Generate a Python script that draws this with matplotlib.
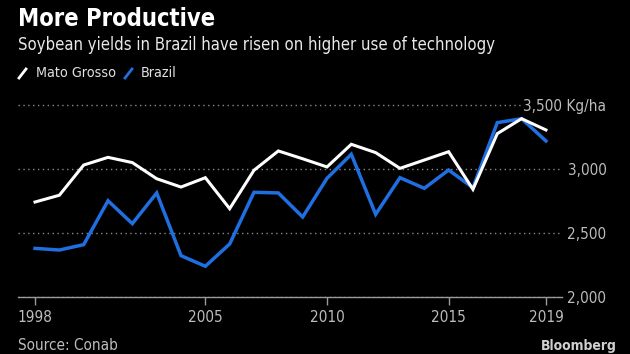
import matplotlib
matplotlib.use("Agg")
import matplotlib.pyplot as plt
from matplotlib.lines import Line2D

plt.rcParams["font.family"] = ["DejaVu Sans"]
plt.rcParams["font.stretch"] = "condensed"

years = list(range(1998, 2020))
mato_grosso = [2742, 2795, 3031, 3091, 3050, 2924, 2859, 2932, 2690, 2990, 3141,
               3080, 3016, 3193, 3128, 3005, 3070, 3135, 2841, 3276, 3393, 3305]
brazil = [2380, 2367, 2409, 2752, 2573, 2813, 2323, 2240, 2414, 2818, 2813,
          2625, 2927, 3115, 2646, 2932, 2849, 2992, 2854, 3362, 3393, 3219]
x_ticks = [1998, 2005, 2010, 2015, 2019]
y_ticks = [2000, 2500, 3000, 3500]
y_labels = ["2,000", "2,500", "3,000", "3,500 Kg/ha"]

BG = "#000000"
BLUE = "#1f6fe0"
GREY = "#bdbdbd"

W, H = 630, 354
fig = plt.figure(figsize=(6.3, 3.54), dpi=100, facecolor=BG)
ax = fig.add_axes([18 / W, 1 - 297 / H, (562 - 18) / W, (297 - 100) / H], facecolor=BG)

ax.plot(years, mato_grosso, color="white", lw=2.2, solid_joinstyle="miter", zorder=3)
ax.plot(years, brazil, color=BLUE, lw=2.5, solid_joinstyle="miter", zorder=2)

ax.set_xlim(1997.30, 2019.66)
ax.set_ylim(2000, 3539)

for s in ["top", "right", "left"]:
    ax.spines[s].set_visible(False)
ax.spines["bottom"].set_color("#9a9a9a")
ax.spines["bottom"].set_linewidth(1.0)

ax.set_xticks(x_ticks)
ax.set_xticklabels([str(y) for y in x_ticks])
ax.tick_params(axis="x", colors="#9a9a9a", length=6, width=1, labelcolor=GREY,
               labelsize=11, pad=3)

# value labels sit to the right of the plot, right-aligned
ax.yaxis.tick_right()
ax.set_yticks(y_ticks)
ax.set_yticklabels(y_labels)
ax.tick_params(axis="y", length=0, labelcolor=GREY, labelsize=11, pad=32)
for lab in ax.get_yticklabels():
    lab.set_horizontalalignment("right")
ax.get_yticklabels()[-1].set_bbox(dict(facecolor=BG, edgecolor="none", pad=1))

ax.grid(axis="y", color="#8a8a8a", linestyle=(0, (1, 2.5)), linewidth=1.0)
ax.grid(axis="x", visible=False)
ax.set_axisbelow(True)

fig.text(18 / W, 1 - 19 / H, "More Productive", color="white", fontsize=17,
         fontweight="bold", va="center", ha="left")
fig.text(18 / W, 1 - 45 / H, "Soybean yields in Brazil have risen on higher use of technology",
         color="#e8e8e8", fontsize=12, va="center", ha="left")

# legend keys
fig.add_artist(Line2D([19 / W, 26 / W], [1 - 78 / H, 1 - 69 / H], color="white", lw=2.0))
fig.text(36 / W, 1 - 73 / H, "Mato Grosso", color="#e0e0e0", fontsize=10.3, va="center")
fig.add_artist(Line2D([125 / W, 132 / W], [1 - 78 / H, 1 - 69 / H], color=BLUE, lw=2.0))
fig.text(141 / W, 1 - 73 / H, "Brazil", color="#e0e0e0", fontsize=10.3, va="center")

fig.text(18 / W, 1 - 345 / H, "Source: Conab", color=GREY, fontsize=11, va="center")
fig.text(617 / W, 1 - 346 / H, "Bloomberg", color="#cfcfcf", fontsize=10,
         fontweight="bold", va="center", ha="right")

fig.savefig("out.png", dpi=100, facecolor=BG)
